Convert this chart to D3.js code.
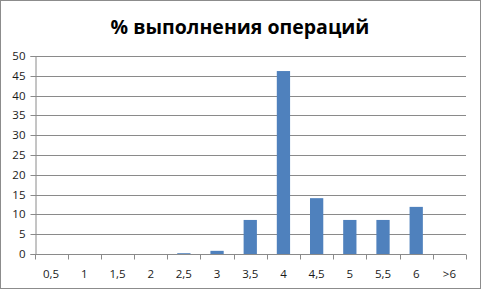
<!DOCTYPE html>
<html>
<head>
<meta charset="utf-8">
<script src="https://cdn.jsdelivr.net/npm/d3@7"></script>
<style>
  html, body { margin: 0; padding: 0; background: #fff; }
  svg { display: block; }
</style>
</head>
<body>
<svg id="chart" width="481" height="289"></svg>
<script>
// Share of operations completed, grouped by score
const categories = ["0,5", "1", "1,5", "2", "2,5", "3", "3,5", "4", "4,5", "5", "5,5", "6", ">6"];
const values = [0, 0, 0, 0, 0.2, 0.8, 8.6, 46.2, 14.1, 8.6, 8.6, 11.9, 0];
const yTicks = [0, 5, 10, 15, 20, 25, 30, 35, 40, 45, 50];
const title = "% выполнения операций";

const W = 481, H = 289;
const margin = { left: 34.5, right: 15, top: 56, bottom: 35 };
const svg = d3.select("#chart");

// outer frame
svg.append("rect")
  .attr("x", 0.5).attr("y", 0.5)
  .attr("width", W - 1).attr("height", H - 1)
  .attr("fill", "#fff").attr("stroke", "#8c8c8c");

const x = d3.scaleBand()
  .domain(categories)
  .range([margin.left, W - margin.right])
  .paddingInner(0.6).paddingOuter(0.3);

const xEdge = d3.scaleLinear()
  .domain([0, categories.length])
  .range([margin.left, W - margin.right]);

const y = d3.scaleLinear()
  .domain([0, 50])
  .range([H - margin.bottom, margin.top]);

// gridlines
svg.append("g")
  .selectAll("line")
  .data(yTicks.filter(d => d > 0))
  .join("line")
  .attr("x1", margin.left).attr("x2", W - margin.right)
  .attr("y1", d => Math.round(y(d)) + 0.5).attr("y2", d => Math.round(y(d)) + 0.5)
  .attr("stroke", "#8a8a8a").attr("stroke-width", 1);

// y axis
const yAxis = svg.append("g")
  .attr("transform", `translate(${Math.round(margin.left) + 0.5},0)`)
  .call(d3.axisLeft(y).tickValues(yTicks).tickSize(5).tickPadding(5).tickFormat(d => d));
yAxis.select(".domain").attr("stroke", "#8a8a8a");
yAxis.selectAll(".tick line").attr("stroke", "#8a8a8a");
yAxis.selectAll("text")
  .attr("font-family", "'Open Sans', sans-serif")
  .attr("font-size", 11.5).attr("fill", "#1a1a1a");
yAxis.selectAll(".tick")
  .attr("transform", d => `translate(0,${Math.round(y(d)) + 0.5})`);

// bars
svg.append("g")
  .selectAll("rect")
  .data(values)
  .join("rect")
  .attr("x", (d, i) => x(categories[i]))
  .attr("width", x.bandwidth())
  .attr("y", d => y(d))
  .attr("height", d => y(0) - y(d))
  .attr("fill", "#4f81bd");

// x axis line and boundary ticks
const baseY = Math.round(y(0)) + 0.5;
svg.append("line")
  .attr("x1", margin.left).attr("x2", W - margin.right)
  .attr("y1", baseY).attr("y2", baseY)
  .attr("stroke", "#8a8a8a");
svg.append("g")
  .selectAll("line")
  .data(d3.range(categories.length + 1))
  .join("line")
  .attr("x1", d => Math.round(xEdge(d)) + 0.5).attr("x2", d => Math.round(xEdge(d)) + 0.5)
  .attr("y1", baseY).attr("y2", baseY + 5)
  .attr("stroke", "#8a8a8a");

// category labels
svg.append("g")
  .selectAll("text")
  .data(categories)
  .join("text")
  .attr("x", d => x(d) + x.bandwidth() / 2)
  .attr("y", baseY + 23)
  .attr("text-anchor", "middle")
  .attr("font-family", "'Open Sans', sans-serif")
  .attr("font-size", 11.5).attr("fill", "#1a1a1a")
  .text(d => d);

// title
svg.append("text")
  .attr("x", 240).attr("y", 34)
  .attr("text-anchor", "middle")
  .attr("font-family", "'Open Sans', sans-serif")
  .attr("font-weight", "bold")
  .attr("font-size", 19.5)
  .attr("fill", "#000")
  .text(title);
</script>
</body>
</html>
